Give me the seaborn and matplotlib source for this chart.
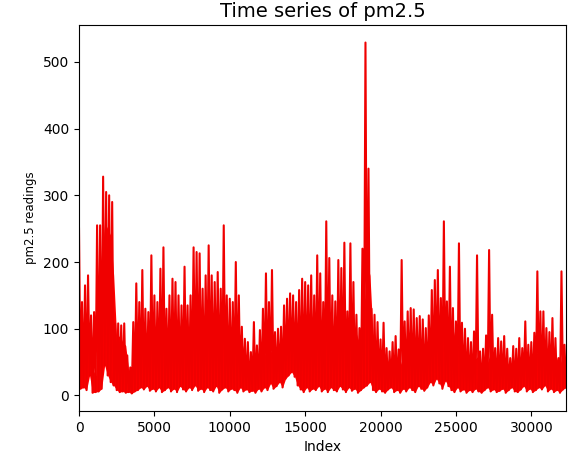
import numpy as np
import pandas as pd
import matplotlib
matplotlib.use("Agg")
import matplotlib.pyplot as plt
import seaborn as sns

# Per-bin (200 readings each) values:
# maximum reading, minimum reading, and the top of the dense band of readings
bin_size = 200
hi_vals = [
    250, 140, 165, 180, 120, 125, 255, 255, 328, 305,
    300, 290, 108, 108, 105, 108, 60, 42, 110, 168,
    140, 188, 130, 125, 210, 150, 140, 190, 222, 130,
    150, 175, 170, 150, 135, 193, 135, 150, 222, 215,
    213, 160, 180, 225, 180, 170, 185, 160, 255, 150,
    145, 140, 200, 150, 103, 85, 80, 65, 110, 75,
    98, 130, 183, 140, 188, 95, 100, 103, 135, 145,
    153, 150, 140, 158, 175, 170, 165, 180, 150, 210,
    183, 140, 261, 206, 150, 141, 203, 191, 229, 126,
    228, 170, 121, 101, 220, 529, 340, 130, 121, 110,
    84, 109, 71, 66, 80, 89, 69, 203, 111, 126,
    131, 129, 116, 119, 114, 101, 120, 158, 173, 188,
    146, 261, 141, 193, 131, 111, 228, 109, 100, 86,
    80, 96, 210, 66, 70, 90, 218, 121, 71, 86,
    81, 89, 70, 56, 74, 70, 86, 71, 111, 76,
    80, 94, 186, 126, 126, 101, 95, 116, 86, 56,
    186, 76,
]
lo_vals = [
    10, 12, 8, 30, 4, 5, 6, 10, 45, 30,
    20, 15, 8, 5, 6, 4, 5, 3, 6, 8,
    12, 9, 14, 7, 10, 6, 12, 5, 8, 12,
    6, 10, 5, 14, 9, 6, 12, 8, 15, 7,
    10, 5, 12, 8, 6, 14, 4, 9, 12, 6,
    10, 8, 4, 12, 6, 9, 5, 7, 4, 10,
    6, 12, 8, 18, 10, 14, 20, 12, 25, 30,
    35, 28, 15, 9, 5, 12, 6, 10, 8, 14,
    6, 10, 5, 12, 8, 6, 14, 9, 5, 12,
    7, 10, 4, 8, 12, 15, 20, 8, 5, 10,
    6, 4, 9, 12, 5, 8, 4, 10, 6, 12,
    8, 5, 14, 10, 7, 12, 20, 15, 25, 18,
    10, 22, 14, 8, 5, 12, 6, 9, 4, 8,
    5, 10, 6, 4, 8, 12, 6, 9, 5, 7,
    10, 4, 8, 12, 6, 5, 9, 14, 6, 10,
    5, 8, 12, 9, 15, 6, 10, 5, 8, 4,
    9, 12,
]
band_vals = [
    90, 70, 80, 95, 40, 30, 180, 200, 260, 250,
    240, 180, 85, 90, 80, 75, 35, 30, 60, 95,
    85, 100, 90, 80, 110, 95, 90, 100, 110, 90,
    100, 110, 105, 95, 90, 110, 95, 100, 120, 115,
    110, 100, 105, 115, 110, 100, 105, 95, 120, 100,
    95, 90, 100, 90, 70, 55, 50, 45, 55, 50,
    55, 60, 75, 65, 70, 55, 60, 65, 80, 90,
    95, 95, 90, 95, 100, 105, 100, 105, 100, 115,
    110, 95, 115, 110, 95, 90, 110, 105, 115, 90,
    110, 100, 85, 75, 130, 200, 180, 90, 80, 70,
    55, 60, 50, 45, 50, 55, 45, 60, 60, 70,
    75, 80, 75, 70, 75, 70, 80, 95, 105, 115,
    100, 120, 100, 110, 90, 75, 80, 65, 60, 55,
    50, 55, 60, 45, 45, 50, 65, 60, 45, 50,
    50, 55, 45, 40, 45, 45, 50, 45, 60, 50,
    55, 60, 70, 75, 70, 65, 60, 65, 55, 45,
    70, 50,
]

title = "Time series of pm2.5"
x_label = "Index"
y_label = "pm2.5 readings"

# Build the series: each bin contributes its max reading then its min reading
idx, vals = [], []
for i, (h, l) in enumerate(zip(hi_vals, lo_vals)):
    idx.extend([i * bin_size, i * bin_size + bin_size // 2])
    vals.extend([h, l])
df = pd.DataFrame({"Index": idx, "pm2.5": vals})
bins = pd.DataFrame({"start": np.arange(len(hi_vals)) * bin_size,
                     "lo": lo_vals, "band": band_vals})

fig = plt.figure(figsize=(5.68, 4.57), dpi=100)
ax = fig.add_axes([79 / 568, 1 - 411 / 457, (566 - 79) / 568, (411 - 25) / 457])
ax.fill_between(bins["start"] + bin_size // 2, bins["lo"], bins["band"],
                color="red", linewidth=0)
sns.lineplot(data=df, x="Index", y="pm2.5", color="#f00000", linewidth=1.5,
             sort=False, estimator=None, ax=ax)
ax.set_xlim(df["Index"].min(), df["Index"].max())
ax.set_title(title, fontsize=14)
ax.set_xlabel(x_label, fontsize=10)
ax.set_ylabel(y_label, fontsize=8.5)
ax.tick_params(labelsize=10)
fig.savefig("out.png", dpi=100)
